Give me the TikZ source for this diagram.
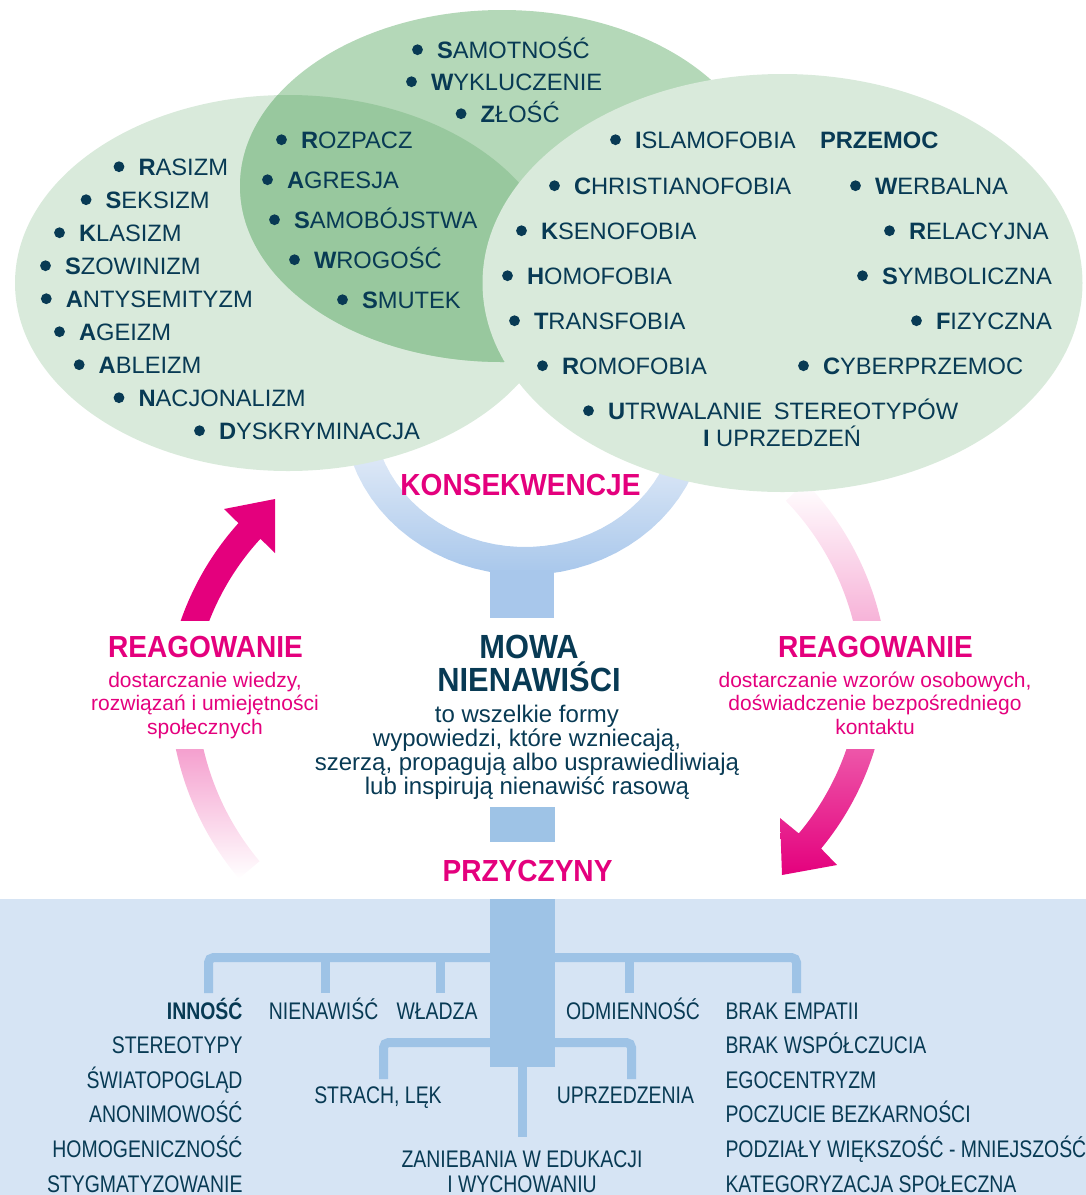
\documentclass[tikz,border=0pt]{standalone}
\usepackage{fontspec}
\setmainfont{Liberation Sans}
\newfontfamily\headfont{Liberation Sans}[FakeStretch=0.92]
\newfontfamily\narrowfont{Liberation Sans}[FakeStretch=0.81]

\definecolor{hatepink}{RGB}{228,0,125}
\definecolor{hatenavy}{RGB}{8,58,84}
\definecolor{leafgreen}{RGB}{217,234,219}
\definecolor{midgreen}{RGB}{180,216,184}
\definecolor{deepgreen}{RGB}{152,200,158}
\definecolor{causebg}{RGB}{214,228,244}
\definecolor{barblue}{RGB}{158,195,230}
\definecolor{ringtop}{RGB}{242,245,251}
\definecolor{ringbot}{RGB}{168,199,235}

\newcommand{\itm}[2]{\textbf{#1}#2}

\tikzset{
  item/.style={anchor=base west, inner sep=0pt, outer sep=0pt, text=hatenavy, font=\fontsize{23.7}{28}\selectfont},
  head/.style={anchor=base, inner sep=0pt, outer sep=0pt, text=hatepink, font=\headfont\bfseries\fontsize{30.5}{30.5}\selectfont},
  note/.style={anchor=base, align=center, inner sep=0pt, outer sep=0pt, text=hatepink, font=\fontsize{21}{23.5}\selectfont},
  defn/.style={anchor=base, align=center, inner sep=0pt, outer sep=0pt, text=hatenavy, font=\fontsize{24}{24}\selectfont},
  cause/.style={anchor=base, inner sep=0pt, outer sep=0pt, text=hatenavy, font=\narrowfont\fontsize{24}{34.6}\selectfont},
  bar/.style={draw=barblue, line width=9pt, rounded corners=5pt},
  block/.style={fill=barblue, inner sep=0pt, outer sep=0pt}
}

\begin{document}
\begin{tikzpicture}[x=1pt,y=-1pt]
\useasboundingbox (0,0) rectangle (1086,1195);
% causes band
\fill[causebg] (0,899) rectangle (1086,1195);

% cup under the ellipses
\shade[top color=ringtop, bottom color=ringbot] plot[domain=0:180, samples=40, variable=\t] ({525+182*cos(\t)},{410+165*sin(\t)}) -- plot[domain=180:0, samples=40, variable=\t] ({525+152*cos(\t)},{410+137*sin(\t)}) -- cycle;
\fill[ringbot] (490,570) rectangle (554,618);
\node[block, minimum width=65pt, minimum height=35pt] (joint) at (522.5,824.5) {};
\node[block, minimum width=65pt, minimum height=168pt] (trunk) at (522.5,983) {};

% response arrows, upper half
\begin{scope}
\clip (0,0) rectangle (1086,620);
\fill[hatepink] plot[domain=190:215.45, samples=30, variable=\t] ({470+(296.5-0.57*(\t-194))*cos(\t)},{688+(296.5-0.57*(\t-194))*sin(\t)}) -- (224,509) -- (275,499) -- (275,553) -- plot[domain=215.45:190, samples=30, variable=\t] ({470+(269.5-0.57*(\t-194))*cos(\t)},{688+(269.5-0.57*(\t-194))*sin(\t)}) -- cycle;
\shade[top color=white, bottom color=hatepink!36!white] plot[domain=316:352, samples=30, variable=\t] ({592+296.5*cos(\t)},{688+296.5*sin(\t)}) -- plot[domain=352:316, samples=30, variable=\t] ({592+269.5*cos(\t)},{688+269.5*sin(\t)}) -- cycle;
\end{scope}
% response arrows, lower half
\begin{scope}
\clip (0,749) rectangle (1086,1195);
\shade[top color=hatepink!44!white, bottom color=white] plot[domain=172:140, samples=30, variable=\t] ({466+296.5*cos(\t)},{688+296.5*sin(\t)}) -- plot[domain=140:172, samples=30, variable=\t] ({466+269.5*cos(\t)},{688+269.5*sin(\t)}) -- cycle;
\shade[top color=hatepink!60!white, bottom color=hatepink] plot[domain=8:34.1, samples=30, variable=\t] ({584+(296.5-0.48*(\t-13))*cos(\t)},{688+(296.5-0.48*(\t-13))*sin(\t)}) -- (837,865) -- (782,875) -- (780,818) -- plot[domain=34.1:8, samples=30, variable=\t] ({584+(269.5-0.48*(\t-13))*cos(\t)},{688+(269.5-0.48*(\t-13))*sin(\t)}) -- cycle;
\end{scope}

% ellipses
\fill[leafgreen] (288,283) ellipse [x radius=273pt, y radius=188pt];
\fill[midgreen] (502,186) ellipse [x radius=262pt, y radius=176pt];
\begin{scope}
\clip (288,283) ellipse [x radius=273pt, y radius=188pt];
\fill[deepgreen] (502,186) ellipse [x radius=262pt, y radius=176pt];
\end{scope}
\fill[leafgreen] (782.5,283) ellipse [x radius=300pt, y radius=209pt];

% left ellipse
\node[item] (rasizm) at (138.5,175) {\itm{R}{ASIZM}};
\node[item] (seksizm) at (105.6,208) {\itm{S}{EKSIZM}};
\node[item] (klasizm) at (79,241) {\itm{K}{LASIZM}};
\node[item] (szowinizm) at (65,274) {\itm{S}{ZOWINIZM}};
\node[item] (antysem) at (65.8,307) {\itm{A}{NTYSEMITYZM}};
\node[item] (ageizm) at (79,340) {\itm{A}{GEIZM}};
\node[item] (ableizm) at (98.7,373) {\itm{A}{BLEIZM}};
\node[item] (nacjonal) at (138.5,406) {\itm{N}{ACJONALIZM}};
\node[item] (dyskrym) at (219,439) {\itm{D}{YSKRYMINACJA}};
% overlap
\node[item] (rozpacz) at (301,148) {\itm{R}{OZPACZ}};
\node[item] (agresja) at (287,188) {\itm{A}{GRESJA}};
\node[item] (samobojstwa) at (294,228) {\itm{S}{AMOBÓJSTWA}};
\node[item] (wrogosc) at (314,268) {\itm{W}{ROGOŚĆ}};
\node[item] (smutek) at (362,308) {\itm{S}{MUTEK}};
% top ellipse
\node[item] (samotnosc) at (437,58) {\itm{S}{AMOTNOŚĆ}};
\node[item] (wykluczenie) at (431,90) {\itm{W}{YKLUCZENIE}};
\node[item] (zlosc) at (480.6,122) {\itm{Z}{ŁOŚĆ}};
% right ellipse
\node[item] (islamofobia) at (635,148) {\itm{I}{SLAMOFOBIA}};
\node[item] (przemoc) at (820,148) {\textbf{PRZEMOC}};
\node[item] (christian) at (574,194) {\itm{C}{HRISTIANOFOBIA}};
\node[item] (werbalna) at (875,194) {\itm{W}{ERBALNA}};
\node[item] (ksenofobia) at (541,239) {\itm{K}{SENOFOBIA}};
\node[item] (relacyjna) at (909,239) {\itm{R}{ELACYJNA}};
\node[item] (homofobia) at (527,284) {\itm{H}{OMOFOBIA}};
\node[item] (symbol) at (882,284) {\itm{S}{YMBOLICZNA}};
\node[item] (transfobia) at (534,329) {\itm{T}{RANSFOBIA}};
\node[item] (fizyczna) at (936,329) {\itm{F}{IZYCZNA}};
\node[item] (romofobia) at (562,374) {\itm{R}{OMOFOBIA}};
\node[item] (cyber) at (823,374) {\itm{C}{YBERPRZEMOC}};
\node[item] (utrwal) at (608,419) {\itm{U}{TRWALANIE\hspace{0.5em}STEREOTYPÓW}};
\node[item] (uprzedzen) at (703,446) {\textbf{I} UPRZEDZEŃ};
% bullets in front of the items
\foreach \n in {rasizm,seksizm,klasizm,szowinizm,antysem,ageizm,ableizm,nacjonal,dyskrym,
  rozpacz,agresja,samobojstwa,wrogosc,smutek,samotnosc,wykluczenie,zlosc,
  islamofobia,christian,werbalna,ksenofobia,relacyjna,homofobia,symbol,
  transfobia,fizyczna,romofobia,cyber,utrwal}
  \fill[hatenavy] ([xshift=-19.5pt, yshift=8.3pt]\n.base west) circle (5.4pt);

% middle
\node[head] (kons) at (520.5,495) {KONSEKWENCJE};
\node[head, text=hatenavy, align=center, font=\headfont\bfseries\fontsize{33.5}{33}\selectfont] (mowa) at (529,691) {MOWA\\NIENAWIŚCI};
\node[defn] (definicja) at (527,794) {to wszelkie formy\\wypowiedzi, które wzniecają,\\szerzą, propagują albo usprawiedliwiają\\lub inspirują nienawiść rasową};
\node[head] (przyczyny) at (527.5,881) {PRZYCZYNY};
\node[head] (reagL) at (205.5,657) {REAGOWANIE};
\node[note] (reagLnote) at (205,734) {dostarczanie wiedzy,\\rozwiązań i umiejętności\\społecznych};
\node[head] (reagR) at (875.5,657) {REAGOWANIE};
\node[note] (reagRnote) at (875,734) {dostarczanie wzorów osobowych,\\doświadczenie bezpośredniego\\kontaktu};

% causes tree
\coordinate (b1) at (208.5,993);
\coordinate (b2) at (325,993);
\coordinate (b3) at (440,993);
\coordinate (b4) at (629.5,993);
\coordinate (b5) at (796.5,993);
\coordinate (c1) at (383.5,1079);
\coordinate (c2) at (631.5,1079);
\draw[bar] (b1) -- ++(0,-35.5) -| (b5);
\foreach \b in {b2,b3,b4} \draw[bar] (\b) -- ++(0,-36);
\draw[bar] (c1) -- ++(0,-36.5) -| (c2);
\draw[bar] (trunk.south) -- ++(0,70);

\node[cause, anchor=base east, align=right] (innosc) at (242.5,1192) {\textbf{INNOŚĆ}\\STEREOTYPY\\ŚWIATOPOGLĄD\\ANONIMOWOŚĆ\\HOMOGENICZNOŚĆ\\STYGMATYZOWANIE};
\node[cause] (nienawisc) at (323.6,1019) {NIENAWIŚĆ};
\node[cause] (wladza) at (437,1019) {WŁADZA};
\node[cause] (odmiennosc) at (633,1019) {ODMIENNOŚĆ};
\node[cause, anchor=base west, align=left] (brak) at (725.5,1192) {BRAK EMPATII\\BRAK WSPÓŁCZUCIA\\EGOCENTRYZM\\POCZUCIE BEZKARNOŚCI\\PODZIAŁY WIĘKSZOŚĆ - MNIEJSZOŚĆ\\KATEGORYZACJA SPOŁECZNA};
\node[cause] (strach) at (378,1103) {STRACH, LĘK};
\node[cause] (uprzedzenia) at (625.5,1103) {UPRZEDZENIA};
\node[cause, align=center, font=\narrowfont\fontsize{24}{25}\selectfont] (zaniebania) at (522,1192) {ZANIEBANIA W EDUKACJI\\I WYCHOWANIU};
\end{tikzpicture}
\end{document}
